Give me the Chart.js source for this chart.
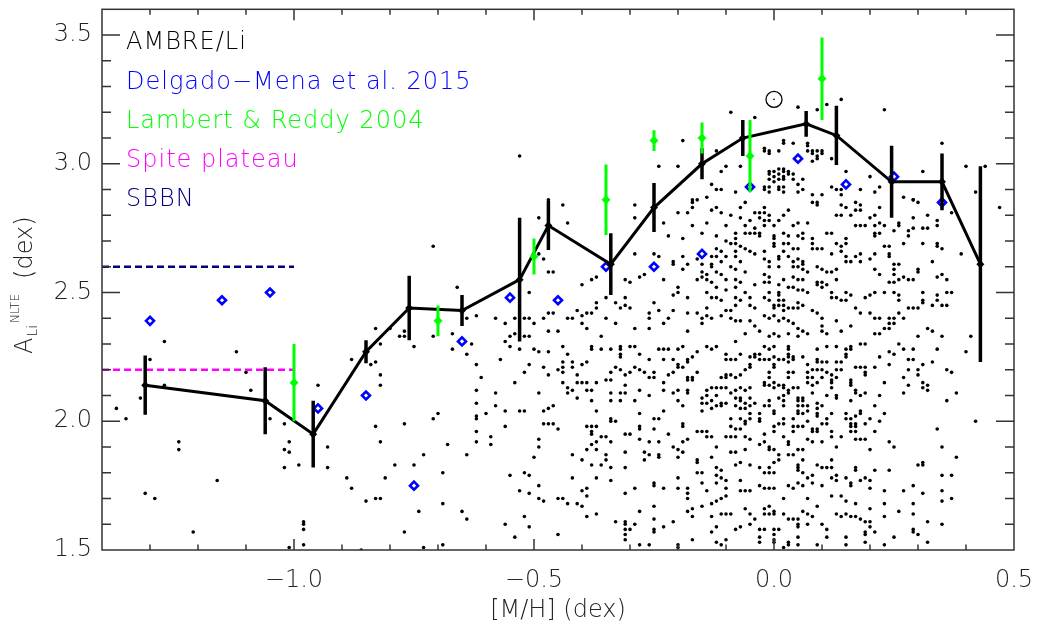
<!DOCTYPE html>
<html>
<head>
<meta charset="utf-8">
<title>AMBRE/Li lithium abundance vs metallicity</title>
<script src="https://cdn.jsdelivr.net/npm/chart.js@4.4.1/dist/chart.umd.min.js"></script>
<style>
  html, body { margin: 0; padding: 0; background: #fff; }
  #wrap { width: 1041px; height: 634px; position: relative; }
</style>
</head>
<body>
<div id="wrap"><canvas id="liChart"></canvas></div>
<script>
// AMBRE/Li binned trend (mean A(Li) per [M/H] bin, with dispersion)
const binMH  = [-1.31, -1.06, -0.96, -0.85, -0.76, -0.65, -0.53, -0.47, -0.34, -0.25, -0.15, -0.065, 0.067, 0.13, 0.245, 0.35, 0.43];
const binLi  = [2.14, 2.08, 1.95, 2.27, 2.44, 2.43, 2.55, 2.76, 2.61, 2.83, 3.00, 3.10, 3.155, 3.11, 2.93, 2.93, 2.61];
const binErr = [0.115, 0.13, 0.13, 0.045, 0.125, 0.06, 0.24, 0.095, 0.12, 0.095, 0.06, 0.07, 0.05, 0.115, 0.14, 0.11, 0.38];

// Lambert & Reddy 2004
const lrMH  = [-1.00, -0.70, -0.50, -0.35, -0.25, -0.15, -0.05, 0.10];
const lrLi  = [2.15, 2.39, 2.64, 2.86, 3.09, 3.10, 3.03, 3.33];
const lrErr = [0.15, 0.06, 0.07, 0.137, 0.04, 0.06, 0.14, 0.16];

// Delgado-Mena et al. 2015
const dmMH = [-1.30, -1.15, -1.05, -0.95, -0.85, -0.75, -0.65, -0.55, -0.45, -0.35, -0.25, -0.15, -0.05, 0.05, 0.15, 0.25, 0.35];
const dmLi = [2.39, 2.47, 2.50, 2.05, 2.10, 1.75, 2.31, 2.48, 2.47, 2.60, 2.60, 2.65, 2.91, 3.02, 2.92, 2.95, 2.85];

// reference levels
const plateauMH = [-1.4, -1.0];
const spiteLi = 2.2;
const sbbnLi = 2.6;
const sunMH = 0.0;
const sunLi = 3.25;

const xTickValues = [-1.0, -0.5, 0.0, 0.5];
const yTickValues = [1.5, 2.0, 2.5, 3.0, 3.5];
const xTitle = "[M/H] (dex)";
const yTitleParts = ["A", "Li", "NLTE", "(dex)"];
const legendLabels = ["AMBRE/Li", "Delgado\u2212Mena et al. 2015", "Lambert & Reddy 2004", "Spite plateau", "SBBN"];
const legendColors = ["#000000", "#0000ff", "#00ff00", "#ff00ff", "#000080"];

// individual AMBRE stars ([M/H], A(Li))
const ambreStars = [
  [-1.37,2.05],[-1.35,2.01],[-1.32,2.09],[-1.30,2.24],[-1.31,1.72],[-1.29,1.70],[-1.27,2.31],[-1.27,2.14],[-1.24,1.92],[-1.24,1.89],
  [-1.21,1.57],[-1.16,1.77],[-1.12,2.27],[-1.10,2.19],[-1.09,2.12],[-1.05,2.01],[-1.02,1.99],[-1.01,1.92],[-1.02,1.89],[-1.01,1.88],
  [-1.02,1.82],[-0.99,1.83],[-1.01,1.51],[-0.98,1.61],[-0.98,1.60],[-0.98,1.58],[-0.98,1.52],[-0.95,2.14],[-0.93,1.90],[-0.93,1.82],
  [-0.89,1.78],[-0.88,1.74],[-0.88,2.24],[-0.86,1.50],[-0.85,1.69],[-0.83,1.70],[-0.82,1.70],[-0.83,2.36],[-0.82,2.30],[-0.83,2.23],
  [-0.84,2.22],[-0.82,2.18],[-0.82,2.14],[-0.83,1.98],[-0.82,1.92],[-0.81,1.78],[-0.79,1.83],[-0.80,2.36],[-0.78,2.33],[-0.77,2.35],
  [-0.77,2.33],[-0.75,2.29],[-0.77,1.99],[-0.77,1.57],[-0.75,1.83],[-0.74,1.65],[-0.73,1.87],[-0.73,1.51],[-0.71,2.33],[-0.71,2.01],
  [-0.70,2.03],[-0.69,1.80],[-0.69,1.68],[-0.69,1.52],[-0.68,1.91],[-0.67,2.34],[-0.67,2.28],[-0.65,1.65],[-0.64,1.62],[-0.64,1.87],
  [-0.64,2.26],[-0.64,2.40],[-0.63,2.30],[-0.62,2.41],[-0.62,2.22],[-0.62,2.12],[-0.62,2.07],[-0.62,2.02],[-0.62,2.01],[-0.62,1.96],
  [-0.62,1.92],[-0.61,2.17],[-0.60,2.03],[-0.59,1.94],[-0.59,1.91],[-0.58,2.40],[-0.58,2.11],[-0.58,2.06],[-0.57,2.24],[-0.56,2.38],
  [-0.56,2.31],[-0.55,2.33],[-0.55,2.29],[-0.56,2.04],[-0.56,1.98],[-0.56,1.60],[-0.55,1.79],[-0.54,1.55],[-0.54,2.15],[-0.54,2.40],
  [-0.54,2.34],[-0.71,2.68],[-0.66,2.52],[-0.53,3.03],
  [-0.47,2.86],[-0.44,2.84],[-0.49,2.79],[-0.43,2.77],[-0.49,2.65],[-0.48,2.63],[-0.51,2.50],[-0.47,2.58],[-0.46,2.58],[-0.40,2.53],
  [-0.38,2.55],[-0.37,2.56],[-0.52,2.40],[-0.52,2.33],[-0.51,2.40],[-0.51,2.33],[-0.50,2.38],[-0.48,2.40],[-0.47,2.42],[-0.47,2.35],
  [-0.46,2.42],[-0.45,2.35],[-0.43,2.40],[-0.42,2.40],[-0.41,2.43],[-0.40,2.41],[-0.39,2.42],[-0.38,2.42],[-0.39,2.36],[-0.40,2.38],
  [-0.37,2.46],[-0.37,2.44],[-0.36,2.33],[-0.35,2.48],[-0.35,2.40],[-0.33,2.46],[-0.33,2.38],[-0.32,2.44],[-0.31,2.48],[-0.31,2.45],
  [-0.30,2.44],[-0.31,2.55],[-0.30,2.54],[-0.29,2.84],[-0.29,2.79],[-0.29,2.65],[-0.29,2.36],[-0.28,2.56],[-0.27,2.57],[-0.26,2.42],
  [-0.26,2.40],[-0.26,2.36],[-0.25,2.46],[-0.25,2.65],[-0.24,2.99],[-0.24,2.64],[-0.24,2.43],[-0.23,2.77],[-0.23,2.55],[-0.23,2.38],
  [-0.22,2.72],[-0.22,2.40],[-0.21,2.62],[-0.21,2.61],[-0.21,2.49],[-0.21,2.43],[-0.20,2.99],[-0.20,2.81],[-0.20,2.52],[-0.20,2.50],
  [-0.19,3.09],[-0.19,2.71],[-0.19,2.64],[-0.19,2.59],[-0.18,2.81],[-0.18,2.61],[-0.18,2.48],[-0.18,2.42],[-0.18,2.35],[-0.17,2.86],
  [-0.17,2.85],[-0.17,2.83],[-0.17,2.76],[-0.16,2.86],[-0.16,2.63],[-0.16,2.55],[-0.16,2.42],[-0.15,2.73],[-0.15,2.61],[-0.15,2.58],
  [-0.15,2.56],[-0.15,2.40],[-0.15,2.38],[-0.14,2.87],[-0.14,2.77],[-0.14,2.57],[-0.14,2.55],[-0.14,2.50],[-0.14,2.44],[-0.14,2.41],
  [-0.13,2.92],[-0.13,2.82],[-0.13,2.64],[-0.13,2.61],[-0.13,2.60],[-0.13,2.54],[-0.13,2.48],[-0.13,2.40],[-0.12,3.05],[-0.12,2.90],
  [-0.12,2.83],[-0.12,2.72],[-0.12,2.67],[-0.12,2.64],[-0.12,2.58],[-0.12,2.52],[-0.12,2.48],[-0.11,2.97],[-0.11,2.90],[-0.11,2.81],
  [-0.11,2.66],[-0.11,2.62],[-0.11,2.57],[-0.11,2.47],[-0.11,2.41],[-0.10,2.99],[-0.10,2.76],[-0.10,2.70],[-0.10,2.64],[-0.10,2.55],
  [-0.10,2.51],[-0.10,2.43],[-0.09,2.80],[-0.09,2.69],[-0.09,2.60],[-0.09,2.43],[-0.09,2.40],[-0.08,2.89],[-0.08,2.73],[-0.08,2.71],
  [-0.08,2.69],[-0.08,2.66],[-0.08,2.64],[-0.08,2.59],[-0.08,2.55],[-0.08,2.52],[-0.08,2.48],[-0.08,2.45],[-0.08,2.39],[-0.08,2.31],
  [-0.07,2.99],[-0.07,2.83],[-0.07,2.79],[-0.07,2.68],[-0.07,2.62],[-0.07,2.54],[-0.07,2.47],[-0.07,2.39],[-0.06,2.85],[-0.06,2.76],
  [-0.06,2.73],[-0.06,2.67],[-0.06,2.58],[-0.06,2.50],[-0.06,2.34],[-0.05,2.78],[-0.05,2.73],[-0.05,2.66],[-0.05,2.48],[-0.05,2.45],
  [-0.05,2.39],[-0.04,2.81],[-0.04,2.75],[-0.04,2.73],[-0.04,2.65],[-0.04,2.53],[-0.04,2.44],[-0.04,2.37],
  [-0.09,3.20],[-0.04,3.18],[0.05,3.22],[0.09,3.21],[0.11,3.23],[0.14,3.25],[0.02,3.09],[0.02,3.08],[0.04,3.08],[-0.02,3.06],
  [-0.02,3.05],[-0.01,3.05],[0.01,3.05],[0.07,3.08],[0.08,3.05],[0.08,3.01],[0.09,3.03],[0.10,3.05],[0.23,3.21],[0.35,3.08],
  [0.31,2.97],[0.40,2.99],[0.44,2.99],[0.47,2.83],[0.42,2.89],[0.15,2.97],[0.12,2.91],[0.13,2.90],[0.18,2.90],[0.20,2.95],
  [0.22,2.91],[0.27,2.87],[0.29,2.86],
  [-0.01,3.04],[0.07,3.07],[0.07,3.05],[0.08,3.04],[0.09,3.05],[0.10,3.04],[0.09,3.02],[0.12,3.02],[0.14,2.90],[0.21,2.89],
  [-0.01,2.97],[-0.01,2.96],[-0.01,2.94],[0.00,2.97],[0.00,2.95],[0.00,2.93],[0.01,2.98],[0.01,2.96],[0.01,2.94],[0.02,2.98],
  [0.02,2.97],[0.02,2.95],[0.02,2.94],[0.03,2.97],[0.03,2.96],[0.04,2.96],[0.04,2.94],[0.06,2.94],[0.05,2.92],[-0.02,2.91],
  [-0.02,2.90],[-0.01,2.91],[-0.01,2.89],[0.01,2.91],[0.01,2.90],[0.02,2.91],[0.02,2.89],[0.06,2.90],[0.05,2.89],[0.08,2.88],
  [0.10,2.88],[0.09,2.85],[0.09,2.84],[0.08,2.85],[0.14,2.88],[0.14,2.84],[0.17,2.85],[0.18,2.84],[0.18,2.82],[0.17,2.82],
  [0.15,2.83],[0.13,2.80],[0.14,2.80],[0.16,2.80],[0.20,2.79],[0.21,2.80],[0.22,2.83],[0.26,2.77],[0.26,2.76],[0.29,2.86],
  [0.30,2.85],[0.32,2.80],[0.29,2.79],[0.34,2.78],[0.34,2.76],[0.37,2.81],[0.33,2.62],[0.39,2.65],[0.17,2.76],[0.18,2.76],
  [0.19,2.76],[0.21,2.76],[0.22,2.77],[0.23,2.76],[0.21,2.73],[0.21,2.72],[0.22,2.73],[0.25,2.74],[0.28,2.74],[0.28,2.72],
  [0.29,2.75],[0.31,2.75],[0.32,2.75],[0.31,2.69],[0.34,2.69],[0.34,2.68],[0.35,2.67],[0.27,2.69],[0.24,2.68],[0.23,2.68],
  [0.24,2.65],[0.24,2.64],[0.21,2.65],[0.20,2.63],[0.18,2.62],[0.17,2.64],[0.16,2.62],[0.18,2.65],[0.25,2.61],[0.26,2.61],
  [0.30,2.59],[0.30,2.58],[0.21,2.59],[0.22,2.57],[0.25,2.59],[0.25,2.57],[0.24,2.54],[0.25,2.54],[0.26,2.55],[0.27,2.56],
  [0.28,2.55],[0.29,2.55],[0.34,2.56],[0.35,2.57],[0.36,2.55],[0.31,2.50],[0.31,2.47],[0.31,2.46],[0.34,2.49],[0.36,2.50],
  [0.37,2.50],[0.25,2.50],[0.26,2.49],[0.26,2.47],[0.23,2.50],[0.21,2.50],[0.20,2.49],[0.19,2.48],[0.15,2.50],[0.16,2.49],
  [0.15,2.47],[0.13,2.48],[0.14,2.47],[0.17,2.44],[0.18,2.42],[0.20,2.42],[0.28,2.44],[0.29,2.44],[0.30,2.44],[0.33,2.45],
  [0.34,2.47],[0.35,2.45],[0.36,2.45],[0.26,2.42],[0.27,2.40],[0.24,2.40],[0.24,2.38],[0.22,2.40],[0.21,2.40],[0.25,2.40],
  [0.25,2.38],[0.23,2.36],[0.24,2.36],[0.21,2.34],[0.22,2.34],[0.32,2.36],[0.33,2.35],[0.35,2.33],[0.41,2.33],[0.30,2.33],
  [-0.03,2.81],[-0.03,2.79],[-0.03,2.73],[-0.03,2.72],[-0.02,2.83],[-0.02,2.81],[-0.02,2.78],[-0.02,2.76],[-0.01,2.80],[-0.01,2.78],
  [0.00,2.76],[0.00,2.72],[0.00,2.71],[0.00,2.69],[0.00,2.68],[0.01,2.78],[0.02,2.80],[0.02,2.73],[0.02,2.69],[0.03,2.82],
  [0.03,2.72],[0.03,2.69],[0.04,2.76],[0.04,2.67],[0.05,2.77],[0.05,2.72],[0.05,2.67],[0.06,2.73],[0.06,2.71],[0.07,2.77],
  [0.08,2.71],[0.08,2.69],[0.08,2.67],[0.09,2.67],[0.10,2.67],[-0.02,2.66],[-0.02,2.63],[-0.01,2.62],[-0.01,2.60],[0.01,2.64],
  [0.01,2.63],[0.01,2.60],[0.02,2.66],[0.03,2.64],[0.04,2.62],[0.04,2.60],[0.05,2.63],[0.05,2.60],[0.06,2.62],[0.06,2.61],
  [0.06,2.59],[0.07,2.58],[0.09,2.60],[0.10,2.59],[0.11,2.58],[0.12,2.58],[0.13,2.59],[0.13,2.55],[0.09,2.54],[0.09,2.53],
  [0.10,2.54],[0.10,2.52],[0.11,2.53],[0.12,2.50],[-0.02,2.57],[-0.02,2.54],[-0.01,2.56],[-0.01,2.54],[0.01,2.53],[0.01,2.50],
  [0.01,2.49],[0.02,2.55],[0.03,2.52],[0.04,2.56],[0.05,2.55],[0.06,2.55],[0.04,2.52],[0.05,2.51],[0.06,2.51],[0.07,2.50],
  [-0.02,2.48],[-0.01,2.50],[-0.01,2.47],[0.00,2.45],[0.00,2.44],[0.01,2.47],[0.01,2.45],[0.02,2.47],[0.02,2.45],[0.02,2.43],
  [0.03,2.44],[0.04,2.44],[0.05,2.46],[0.05,2.44],[0.06,2.45],[0.08,2.43],[0.09,2.42],[0.10,2.40],[-0.02,2.41],[-0.01,2.40],
  [0.00,2.41],[0.01,2.39],[0.02,2.40],[0.03,2.39],[0.04,2.38],[0.05,2.36],[0.06,2.35],[0.07,2.34],[0.10,2.37],[0.10,2.35],
  [0.11,2.34],[-0.03,2.35],[-0.01,2.33],[0.00,2.34],[0.01,2.33],[0.03,2.34],[0.05,2.33],[0.13,2.39],[0.14,2.35],[0.16,2.37],
  [0.12,2.48],[0.15,2.62],[0.15,2.64],[0.12,2.65],[0.11,2.73],[0.12,2.73],[0.13,2.69],[0.14,2.68],[0.14,2.66],[0.15,2.71],
  [0.15,2.69],
  [-0.53,2.28],[-0.50,2.28],[-0.49,2.27],[-0.47,2.27],[-0.44,2.29],[-0.43,2.26],[-0.44,2.23],[-0.44,2.21],[-0.42,2.23],[-0.42,2.21],
  [-0.40,2.22],[-0.39,2.23],[-0.38,2.29],[-0.38,2.28],[-0.36,2.28],[-0.34,2.28],[-0.32,2.29],[-0.32,2.28],[-0.32,2.26],[-0.32,2.25],
  [-0.30,2.29],[-0.29,2.29],[-0.28,2.26],[-0.26,2.24],[-0.24,2.28],[-0.23,2.28],[-0.22,2.28],[-0.23,2.24],[-0.21,2.24],[-0.20,2.28],
  [-0.19,2.29],[-0.18,2.24],[-0.18,2.23],[-0.17,2.25],[-0.16,2.27],[-0.14,2.29],[-0.13,2.28],[-0.12,2.29],[-0.10,2.26],[-0.09,2.24],
  [-0.08,2.24],[-0.07,2.26],[-0.05,2.25],[-0.04,2.25],[-0.51,2.22],[-0.52,2.19],[-0.48,2.21],[-0.47,2.18],[-0.45,2.20],[-0.44,2.19],
  [-0.41,2.18],[-0.40,2.15],[-0.49,2.11],[-0.44,2.15],[-0.43,2.13],[-0.43,2.11],[-0.42,2.12],[-0.41,2.15],[-0.41,2.09],[-0.39,2.15],
  [-0.39,2.12],[-0.38,2.12],[-0.38,2.08],[-0.37,2.15],[-0.37,2.04],[-0.35,2.16],[-0.34,2.16],[-0.34,2.19],[-0.33,2.21],[-0.32,2.20],
  [-0.31,2.18],[-0.30,2.19],[-0.29,2.21],[-0.28,2.20],[-0.27,2.19],[-0.26,2.17],[-0.25,2.19],[-0.25,2.17],[-0.31,2.14],[-0.32,2.11],
  [-0.31,2.11],[-0.34,2.11],[-0.32,2.08],[-0.34,2.08],[-0.29,2.08],[-0.28,2.12],[-0.26,2.10],[-0.23,2.15],[-0.23,2.12],[-0.22,2.18],
  [-0.21,2.19],[-0.20,2.22],[-0.20,2.21],[-0.19,2.21],[-0.18,2.17],[-0.18,2.16],[-0.17,2.17],[-0.17,2.16],[-0.16,2.19],[-0.21,2.11],
  [-0.20,2.12],[-0.20,2.08],[-0.18,2.12],[-0.18,2.11],[-0.19,2.06],[-0.23,2.04],[-0.28,2.03],[-0.25,2.01],[-0.24,2.01],[-0.34,2.01],
  [-0.34,2.00],[-0.33,2.00],[-0.39,1.98],[-0.38,1.98],[-0.37,1.98],[-0.38,1.96],[-0.38,1.95],[-0.48,1.99],[-0.47,1.99],[-0.46,1.99],
  [-0.45,1.97],[-0.53,2.04],[-0.52,2.04],[-0.48,2.04],[-0.47,2.05],[-0.46,2.06],[-0.49,1.93],[-0.49,1.90],[-0.50,1.86],[-0.36,1.94],
  [-0.35,1.94],[-0.37,1.92],[-0.39,1.89],[-0.38,1.91],[-0.37,1.89],[-0.34,1.92],[-0.30,1.95],[-0.31,1.95],[-0.28,1.98],[-0.28,1.97],
  [-0.28,1.93],[-0.26,1.92],[-0.24,1.92],[-0.25,1.97],[-0.22,1.95],[-0.19,1.99],[-0.19,1.98],[-0.18,1.93],[-0.19,1.92],[-0.21,1.90],
  [-0.20,1.89],[-0.19,1.88],[-0.42,1.87],[-0.40,1.85],[-0.38,1.83],[-0.36,1.83],[-0.35,1.87],[-0.35,1.85],[-0.34,1.82],[-0.31,1.88],
  [-0.31,1.82],[-0.27,1.88],[-0.26,1.87],[-0.27,1.85],[-0.24,1.87],[-0.24,1.86],[-0.20,1.86],[-0.16,1.85],[-0.16,1.84],[-0.13,1.86],
  [-0.12,1.90],[-0.52,1.80],[-0.51,1.79],[-0.49,1.75],[-0.53,1.73],[-0.51,1.72],[-0.49,1.70],[-0.48,1.69],[-0.45,1.70],[-0.44,1.70],
  [-0.43,1.68],[-0.41,1.68],[-0.40,1.67],[-0.42,1.78],[-0.40,1.73],[-0.39,1.74],[-0.39,1.71],[-0.37,1.78],[-0.34,1.77],[-0.31,1.72],
  [-0.29,1.74],[-0.25,1.76],[-0.25,1.75],[-0.23,1.74],[-0.20,1.78],[-0.20,1.74],[-0.18,1.74],[-0.18,1.72],[-0.18,1.70],[-0.16,1.80],
  [-0.15,1.80],[-0.15,1.76],[-0.14,1.73],[-0.12,1.82],[-0.11,1.81],[-0.12,1.79],[-0.11,1.78],[-0.10,1.77],[-0.12,1.76],[-0.10,1.74],
  [-0.10,1.71],[-0.11,1.70],[-0.12,1.69],[-0.13,1.68],[-0.15,1.67],[-0.17,1.66],[-0.17,1.63],[-0.18,1.65],[-0.13,1.63],[-0.11,1.64],
  [-0.10,1.64],[-0.09,1.64],[-0.08,1.83],[-0.07,1.84],[-0.09,1.88],[-0.08,1.88],[-0.06,1.89],[-0.05,1.83],[-0.07,1.77],[-0.07,1.73],
  [-0.06,1.73],[-0.05,1.73],[-0.06,1.66],[-0.05,1.64],[-0.04,1.62],[-0.05,1.60],[-0.08,1.58],[-0.07,1.59],[-0.12,1.59],[-0.13,1.57],
  [-0.10,1.54],[-0.12,1.53],[-0.11,1.52],[-0.52,1.63],[-0.51,1.59],[-0.45,1.56],[-0.39,1.63],[-0.37,1.64],[-0.33,1.61],[-0.31,1.61],
  [-0.31,1.60],[-0.31,1.58],[-0.31,1.56],[-0.31,1.54],[-0.30,1.58],[-0.29,1.60],[-0.28,1.65],[-0.25,1.67],[-0.25,1.62],[-0.25,1.58],
  [-0.25,1.57],[-0.23,1.59],[-0.21,1.61],[-0.17,1.54],[-0.28,1.52],[-0.26,1.52],[-0.20,1.52],[-0.20,1.51],
  [-0.15,2.09],[-0.14,2.10],[-0.14,2.12],[-0.13,2.13],[-0.12,2.13],[-0.11,2.13],[-0.10,2.13],[-0.15,2.07],[-0.14,2.07],[-0.13,2.08],
  [-0.12,2.10],[-0.11,2.07],[-0.10,2.07],[-0.15,2.04],[-0.13,2.05],[-0.12,2.06],[-0.11,2.06],[-0.09,2.11],[-0.08,2.12],[-0.07,2.13],
  [-0.06,2.12],[-0.05,2.13],[-0.08,2.09],[-0.07,2.09],[-0.07,2.08],[-0.06,2.07],[-0.05,2.09],[-0.05,2.06],[-0.04,2.07],[-0.08,2.06],
  [-0.07,2.05],[-0.06,2.05],[-0.05,2.03],[-0.09,2.01],[-0.07,2.01],[-0.06,2.00],[-0.06,1.99],[-0.05,2.01],[-0.09,1.98],[-0.08,1.97],
  [-0.07,1.97],[-0.16,1.96],[-0.15,1.96],[-0.14,1.96],[-0.13,1.94],[-0.14,1.94],[-0.10,1.94],[-0.09,1.94],[-0.08,1.94],[-0.06,1.94],
  [-0.05,1.93],[-0.11,2.17],[-0.10,2.18],[-0.09,2.18],[-0.10,2.17],[-0.08,2.17],[-0.07,2.18],[-0.06,2.20],[-0.05,2.22],[-0.05,2.21],
  [-0.10,2.24],[-0.04,2.26],
  [-0.02,2.29],[-0.01,2.28],[0.00,2.29],[0.03,2.29],[0.03,2.28],[0.03,2.26],[0.03,2.25],[0.00,2.25],[-0.01,2.24],[-0.02,2.24],
  [-0.03,2.26],[-0.03,2.24],[0.01,2.24],[0.02,2.24],[0.03,2.23],[0.04,2.24],[0.04,2.25],[0.06,2.25],[0.09,2.28],[0.11,2.29],
  [0.13,2.29],[0.09,2.24],[0.09,2.23],[0.10,2.23],[0.11,2.23],[0.13,2.23],[0.14,2.23],[0.15,2.28],[0.15,2.26],[0.15,2.25],
  [0.16,2.29],[0.16,2.28],[0.18,2.30],[0.19,2.30],[0.07,2.22],[0.08,2.20],[0.09,2.20],[0.10,2.20],[0.11,2.19],[0.12,2.18],
  [0.13,2.20],[0.14,2.20],[-0.01,2.19],[-0.01,2.17],[0.00,2.21],[0.00,2.22],[0.03,2.19],[0.03,2.17],[0.04,2.19],[0.07,2.19],
  [0.07,2.17],[0.08,2.17],[-0.02,2.15],[-0.02,2.14],[-0.01,2.14],[0.00,2.15],[0.00,2.13],[0.01,2.14],[0.02,2.14],[0.02,2.13],
  [0.03,2.12],[0.03,2.11],[0.04,2.13],[0.05,2.13],[0.07,2.15],[0.08,2.14],[0.09,2.15],[0.10,2.17],[0.12,2.16],[0.12,2.15],
  [0.12,2.13],[0.13,2.17],[0.16,2.16],[0.16,2.15],[0.16,2.14],[0.17,2.21],[0.18,2.21],[0.19,2.21],[0.19,2.19],[0.19,2.18],
  [0.21,2.21],[0.23,2.15],[0.17,2.12],[0.17,2.11],[0.19,2.11],[0.18,2.10],[0.16,2.08],[0.13,2.10],[0.13,2.09],[0.11,2.10],
  [0.08,2.11],[0.06,2.09],[0.05,2.09],[0.05,2.08],[0.02,2.10],[0.02,2.08],[0.02,2.06],[0.01,2.09],[-0.01,2.08],[-0.02,2.06],
  [-0.01,2.06],[0.00,2.04],[0.00,2.03],[-0.03,2.03],[-0.03,2.01],[-0.03,2.00],[0.02,2.01],[0.04,2.01],[0.05,2.06],[0.06,2.08],
  [0.06,2.06],[0.07,2.06],[0.05,2.04],[0.05,2.03],[0.06,2.03],[0.07,2.04],[0.09,2.07],[0.09,2.05],[0.09,2.03],[0.09,2.02],
  [0.10,2.06],[0.12,2.03],[0.07,2.00],[0.08,1.97],[0.08,1.96],[0.10,1.99],[0.11,2.01],[0.11,1.99],[0.01,1.99],[0.02,1.99],
  [0.00,1.98],[0.00,1.96],[-0.02,1.95],[0.04,1.98],[0.04,1.96],[0.05,1.98],[0.06,1.98],[0.09,1.97],[0.09,1.96],[0.12,1.96],
  [0.12,1.94],[0.14,1.94],[0.15,2.01],[0.16,2.01],[0.16,1.99],[0.16,1.98],[0.16,1.96],[0.17,1.99],[0.17,1.98],[0.17,1.96],
  [0.18,2.04],[0.18,2.03],[0.19,1.99],[0.20,2.01],[0.17,2.02],[0.15,2.03],[0.21,2.06],[0.23,2.03],[0.22,2.00],[0.21,1.96],
  [0.17,1.93],[0.18,1.93],[0.19,1.93],[0.20,1.89],[0.24,1.92],[0.25,1.90],[0.13,1.90],[0.10,1.92],[0.08,1.92],[0.07,1.93],
  [0.06,1.89],[0.05,1.89],[0.03,1.92],[0.03,1.91],[0.02,1.94],[-0.01,1.90],[-0.01,1.89],[0.00,1.89],[-0.02,1.92],[-0.03,1.91],
  [0.01,1.87],[0.01,1.85],[0.00,1.84],[-0.03,1.82],[-0.02,1.80],[-0.01,1.82],[-0.01,1.80],[0.00,1.80],[0.03,1.87],[0.04,1.87],
  [0.06,1.85],[0.05,1.83],[0.05,1.82],[0.05,1.81],[0.06,1.80],[0.09,1.83],[0.10,1.82],[0.11,1.82],[0.12,1.82],[0.12,1.85],
  [0.17,1.82],[0.17,1.81],[0.21,1.81],[0.24,1.81],[0.30,1.83],[0.31,1.83],[0.31,1.84],[0.34,1.97],[0.35,1.90],[0.38,1.86],
  [0.36,2.08],[0.38,2.11],[0.42,2.00],[0.37,2.19],[0.36,2.20],[0.33,2.23],[0.31,2.22],[0.30,2.20],[0.30,2.18],[0.28,2.20],
  [0.27,2.17],[0.28,2.14],[0.27,2.11],[0.31,2.15],[0.31,2.13],[0.32,2.14],[0.32,2.12],[0.29,2.24],[0.28,2.24],[0.29,2.28],
  [0.27,2.28],[0.24,2.27],[0.25,2.26],[0.26,2.30],[0.34,2.28],[0.40,2.27],[0.24,2.22],[0.22,2.25],[0.22,2.10],
  [-0.03,1.75],[-0.02,1.74],[-0.01,1.74],[0.00,1.74],[0.03,1.75],[0.04,1.74],[0.05,1.76],[0.06,1.75],[0.07,1.78],[0.08,1.79],
  [0.08,1.76],[0.10,1.75],[0.12,1.78],[0.13,1.79],[0.13,1.77],[0.15,1.78],[0.16,1.76],[0.16,1.75],[0.18,1.77],[0.19,1.78],
  [0.20,1.77],[0.20,1.74],[0.23,1.73],[0.23,1.68],[0.27,1.73],[0.29,1.75],[0.31,1.72],[0.35,1.79],[0.35,1.73],[0.35,1.69],
  [0.37,1.79],[0.37,1.70],[0.02,1.70],[0.07,1.70],[0.09,1.67],[0.12,1.71],[0.14,1.71],[0.15,1.69],[0.17,1.68],[0.20,1.66],
  [0.23,1.63],[0.26,1.65],[0.29,1.68],[0.29,1.64],[0.32,1.61],[0.35,1.60],[-0.02,1.66],[-0.02,1.64],[-0.01,1.67],[-0.01,1.64],
  [0.00,1.65],[0.00,1.64],[0.02,1.64],[0.03,1.62],[0.04,1.62],[0.05,1.62],[0.06,1.65],[0.07,1.64],[0.08,1.63],[0.05,1.60],
  [0.05,1.59],[0.07,1.60],[0.10,1.60],[0.13,1.64],[0.14,1.63],[0.15,1.64],[0.16,1.63],[0.17,1.63],[0.18,1.62],[0.19,1.61],
  [0.20,1.61],[0.20,1.59],[-0.03,1.58],[-0.02,1.58],[0.00,1.58],[0.01,1.58],[-0.03,1.55],[-0.03,1.53],[0.00,1.56],[0.00,1.54],
  [0.00,1.53],[0.03,1.53],[0.03,1.52],[0.05,1.55],[0.05,1.52],[0.09,1.52],[0.11,1.58],[0.11,1.55],[0.15,1.55],[0.15,1.52],
  [0.19,1.57],[0.19,1.56],[0.21,1.57],[0.19,1.53],[0.23,1.52],[0.25,1.55],[0.29,1.58],[0.29,1.57],[0.30,1.56],[0.32,1.53],
  [0.02,1.51]
];

const pts = (xs, ys) => xs.map((x, i) => ({ x, y: ys[i] }));
const fontFamily = "'DejaVu Sans', 'Liberation Sans', sans-serif";
const fontStr = size => `200 ${size}px ${fontFamily}`;
const inkColor = "#222";

// vertical error bars, drawn just under their own dataset
const errorBarPlugin = {
  id: "errorBars",
  beforeDatasetDraw(chart, args) {
    const ds = chart.data.datasets[args.index];
    if (!ds.yErr) return;
    const { ctx, chartArea } = chart;
    const xs = chart.scales.x;
    const ys = chart.scales.y;
    ctx.save();
    ctx.beginPath();
    ctx.rect(chartArea.left, chartArea.top, chartArea.right - chartArea.left, chartArea.bottom - chartArea.top);
    ctx.clip();
    ctx.strokeStyle = ds.errColor;
    ctx.lineWidth = ds.errWidth;
    ds.data.forEach((p, i) => {
      const px = xs.getPixelForValue(p.x);
      ctx.beginPath();
      ctx.moveTo(px, ys.getPixelForValue(p.y - ds.yErr[i]));
      ctx.lineTo(px, ys.getPixelForValue(p.y + ds.yErr[i]));
      ctx.stroke();
    });
    ctx.restore();
  }
};

// box with inward ticks on all four sides
const framePlugin = {
  id: "frame",
  afterDatasetsDraw(chart) {
    const { ctx, chartArea: a } = chart;
    const xs = chart.scales.x;
    const ys = chart.scales.y;
    ctx.save();
    ctx.strokeStyle = "#333";
    ctx.lineWidth = 1.5;
    ctx.strokeRect(a.left, a.top, a.right - a.left, a.bottom - a.top);
    ctx.beginPath();
    for (let i = -13; i <= 4; i++) {
      const px = xs.getPixelForValue(i / 10);
      const len = i % 5 === 0 ? 11 : 5.5;
      ctx.moveTo(px, a.bottom); ctx.lineTo(px, a.bottom - len);
      ctx.moveTo(px, a.top); ctx.lineTo(px, a.top + len);
    }
    for (let i = 16; i <= 35; i++) {
      const py = ys.getPixelForValue(i / 10);
      const len = i % 5 === 0 ? 18 : 9;
      ctx.moveTo(a.left, py); ctx.lineTo(a.left + len, py);
      ctx.moveTo(a.right, py); ctx.lineTo(a.right - len, py);
    }
    ctx.stroke();
    ctx.restore();
  }
};

// legend text block and the y title with sub/superscripts
const textPlugin = {
  id: "texts",
  afterDraw(chart) {
    const { ctx, chartArea: a } = chart;
    ctx.save();
    ctx.font = fontStr(24);
    ctx.letterSpacing = "1px";
    ctx.textBaseline = "alphabetic";
    ctx.textAlign = "left";
    legendLabels.forEach((t, i) => {
      ctx.fillStyle = legendColors[i];
      ctx.fillText(t, a.left + 24, a.top + 40 + i * 39.2);
    });
    ctx.restore();

    ctx.save();
    ctx.translate(32, 354);
    ctx.rotate(-Math.PI / 2);
    ctx.fillStyle = inkColor;
    ctx.textBaseline = "alphabetic";
    ctx.textAlign = "left";
    let cx = 0;
    ctx.font = fontStr(24);
    ctx.fillText(yTitleParts[0], cx, 0);
    cx += ctx.measureText(yTitleParts[0]).width + 1;
    ctx.font = fontStr(14);
    ctx.fillText(yTitleParts[1], cx, 5);
    cx += ctx.measureText(yTitleParts[1]).width + 2;
    ctx.font = fontStr(12);
    ctx.fillText(yTitleParts[2], cx, -13);
    cx += ctx.measureText(yTitleParts[2]).width + 15;
    ctx.font = fontStr(24);
    ctx.fillText(yTitleParts[3], cx, 0);
    ctx.restore();
  }
};

const tickFont = { family: fontFamily, size: 24, weight: 200 };
const fmt = v => Number(v).toFixed(1).replace("-", "\u2212");

new Chart(document.getElementById("liChart"), {
  type: "scatter",
  data: {
    datasets: [
      {
        label: "Lambert & Reddy 2004",
        data: pts(lrMH, lrLi),
        yErr: lrErr, errColor: "#00ff00", errWidth: 3,
        pointStyle: "rectRot", pointRadius: 4.5,
        pointBackgroundColor: "#00ff00", pointBorderColor: "#00ff00", pointBorderWidth: 0
      },
      {
        label: "AMBRE/Li",
        data: pts(binMH, binLi),
        yErr: binErr, errColor: "#000", errWidth: 3.5,
        showLine: true, borderColor: "#000", borderWidth: 3,
        pointStyle: "rectRot", pointRadius: 4,
        pointBackgroundColor: "#000", pointBorderColor: "#000", pointBorderWidth: 0
      },
      {
        label: "Delgado-Mena et al. 2015",
        data: pts(dmMH, dmLi),
        pointStyle: "rectRot", pointRadius: 4,
        pointBackgroundColor: "#fff", pointBorderColor: "#0000ff", pointBorderWidth: 2.6
      },
      {
        label: "Sun",
        data: [{ x: sunMH, y: sunLi }],
        pointStyle: "circle", pointRadius: 8,
        pointBackgroundColor: "rgba(0,0,0,0)", pointBorderColor: "#000", pointBorderWidth: 1.3
      },
      {
        label: "Sun centre",
        data: [{ x: sunMH, y: sunLi }],
        pointStyle: "circle", pointRadius: 0.8,
        pointBackgroundColor: "#000", pointBorderWidth: 0
      },
      {
        label: "SBBN",
        data: pts(plateauMH, [sbbnLi, sbbnLi]),
        showLine: true, borderColor: "#000080", borderWidth: 2.5, borderDash: [7, 4],
        pointRadius: 0
      },
      {
        label: "Spite plateau",
        data: pts(plateauMH, [spiteLi, spiteLi]),
        showLine: true, borderColor: "#ff00ff", borderWidth: 2.5, borderDash: [7, 4],
        pointRadius: 0
      },
      {
        label: "AMBRE stars",
        data: ambreStars.map(([x, y]) => ({ x, y })),
        pointStyle: "circle", pointRadius: 1.8,
        pointBackgroundColor: "#000", pointBorderWidth: 0
      }
    ]
  },
  options: {
    responsive: true,
    maintainAspectRatio: false,
    animation: false,
    events: [],
    layout: { padding: { left: 0, right: 27, top: 1, bottom: 0 } },
    plugins: {
      legend: { display: false },
      tooltip: { enabled: false }
    },
    scales: {
      x: {
        type: "linear",
        min: -1.4,
        max: 0.5,
        afterFit(scale) {
          scale.height = 84;
          scale.paddingLeft = 0;
          scale.paddingRight = 0;
        },
        afterBuildTicks(scale) { scale.ticks = xTickValues.map(v => ({ value: v })); },
        grid: { display: false, drawTicks: false },
        border: { display: false },
        ticks: { padding: 16, font: tickFont, color: inkColor, maxRotation: 0, callback: fmt },
        title: { display: true, text: xTitle, font: tickFont, color: inkColor, padding: { top: 0, bottom: 9 } }
      },
      y: {
        type: "linear",
        min: 1.5,
        max: 3.6,
        afterFit(scale) {
          scale.width = 102;
          scale.paddingTop = 0;
          scale.paddingBottom = 0;
        },
        afterBuildTicks(scale) { scale.ticks = yTickValues.map(v => ({ value: v })); },
        grid: { display: false, drawTicks: false },
        border: { display: false },
        ticks: { padding: 10, font: tickFont, color: inkColor, callback: fmt }
      }
    }
  },
  plugins: [errorBarPlugin, framePlugin, textPlugin]
});
</script>
</body>
</html>
